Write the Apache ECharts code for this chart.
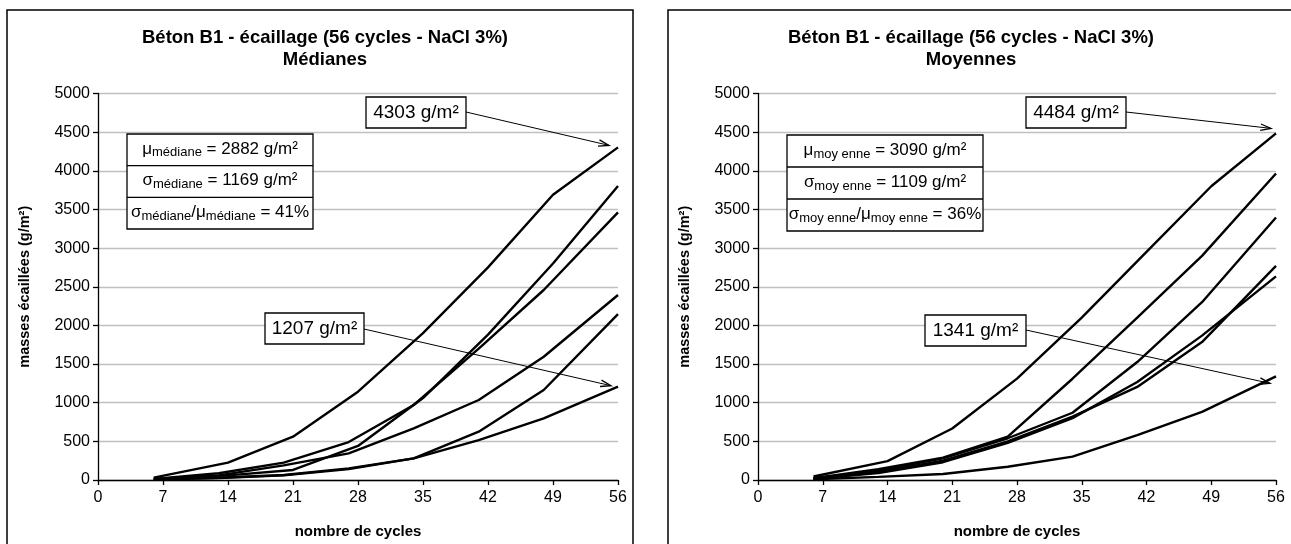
<!DOCTYPE html>
<html>
<head>
<meta charset="utf-8">
<title>Béton B1 - écaillage</title>
<script src="https://cdn.jsdelivr.net/npm/echarts@6/dist/echarts.min.js"></script>
<style>
  html, body { margin: 0; padding: 0; background: #fff; }
  #chart { width: 1291px; height: 544px; }
</style>
</head>
<body>
<div id="chart"></div>
<script>
// nombre de cycles : deux calendriers de mesure
const cyclesA = [6, 14, 21, 28, 35, 42, 49, 56];
const cyclesB = [6, 13, 20, 27, 34, 41, 48, 56];

// médianes (g/m²)
const med1 = [30, 224, 560, 1142, 1900, 2750, 3690, 4303];   // cyclesA
const med2 = [15, 60, 130, 440, 1060, 1880, 2800, 3803];     // cyclesA
const med3 = [15, 87, 224, 491, 970, 1700, 2458, 3463];      // cyclesB
const med4 = [10, 60, 190, 345, 668, 1035, 1595, 2393];      // cyclesB
const med5 = [5, 30, 65, 151, 280, 625, 1164, 2147];         // cyclesB
const med6 = [5, 25, 60, 140, 280, 517, 798, 1207];          // cyclesB

// moyennes (g/m²)
const moy1 = [45, 245, 666, 1311, 2100, 2950, 3800, 4484];   // cyclesA
const moy2 = [25, 140, 290, 560, 1310, 2100, 2900, 3965];    // cyclesB
const moy3 = [20, 120, 280, 540, 870, 1526, 2300, 3395];     // cyclesB
const moy4 = [20, 100, 250, 500, 820, 1204, 1784, 2770];     // cyclesB
const moy5 = [15, 90, 230, 480, 800, 1268, 1868, 2634];      // cyclesB
const moy6 = [10, 40, 77, 172, 302, 580, 881, 1341];         // cyclesB

// statistiques affichées
const statsMed = { mu: 2882, sigma: 1169, ratio: 41 };
const statsMoy = { mu: 3090, sigma: 1109, ratio: 36 };

const FONT = '"Liberation Sans", Arial, sans-serif';

function pairs(xs, ys) { return xs.map((x, i) => [x, ys[i]]); }

function serie(idx, xs, ys) {
  return {
    type: 'line', xAxisIndex: idx, yAxisIndex: idx,
    data: pairs(xs, ys), symbol: 'none', silent: true,
    lineStyle: { color: '#000', width: 2.4 }
  };
}

function xAxis(idx) {
  return {
    type: 'value', gridIndex: idx, min: 0, max: 56, interval: 7,
    name: 'nombre de cycles', nameLocation: 'middle', nameGap: 44,
    nameTextStyle: { fontFamily: FONT, fontSize: 15, fontWeight: 'bold', color: '#000' },
    axisLine: { lineStyle: { color: '#000', width: 1.3 } },
    axisTick: { length: 5, lineStyle: { color: '#000', width: 1.3 } },
    axisLabel: { fontFamily: FONT, fontSize: 16, color: '#000', margin: 10 },
    splitLine: { show: false }
  };
}

function yAxis(idx) {
  return {
    type: 'value', gridIndex: idx, min: 0, max: 5000, interval: 500,
    name: 'masses écaillées (g/m²)', nameLocation: 'middle', nameGap: 66, nameRotate: 90,
    nameTextStyle: { fontFamily: FONT, fontSize: 14.5, fontWeight: 'bold', color: '#000' },
    axisLine: { show: true, lineStyle: { color: '#000', width: 1.3 } },
    axisTick: { show: true, length: 5, lineStyle: { color: '#000', width: 1.3 } },
    axisLabel: { fontFamily: FONT, fontSize: 16, color: '#000', margin: 8, formatter: v => String(v) },
    splitLine: { lineStyle: { color: '#c0c0c0', width: 1.3 } }
  };
}

const titleStyle = { fontFamily: FONT, fontSize: 18.5, fontWeight: 'bold', color: '#000', lineHeight: 22 };

const chart = echarts.init(document.getElementById('chart'));
chart.setOption({
  animation: false,
  backgroundColor: '#fff',
  title: [
    { text: 'Béton B1 - écaillage (56 cycles - NaCl 3%)\nMédianes', left: 320, top: 22, textAlign: 'center', textStyle: titleStyle },
    { text: 'Béton B1 - écaillage (56 cycles - NaCl 3%)\nMoyennes', left: 966, top: 22, textAlign: 'center', textStyle: titleStyle }
  ],
  grid: [
    { left: 98, width: 520, top: 93.5, height: 386.5 },
    { left: 758, width: 518, top: 93.5, height: 387.5 }
  ],
  xAxis: [xAxis(0), xAxis(1)],
  yAxis: [yAxis(0), yAxis(1)],
  series: [
    serie(0, cyclesA, med1), serie(0, cyclesA, med2), serie(0, cyclesB, med3),
    serie(0, cyclesB, med4), serie(0, cyclesB, med5), serie(0, cyclesB, med6),
    serie(1, cyclesA, moy1), serie(1, cyclesB, moy2), serie(1, cyclesB, moy3),
    serie(1, cyclesB, moy4), serie(1, cyclesB, moy5), serie(1, cyclesB, moy6)
  ]
});

// ---- annotations ----
const rich = {
  g: { fontFamily: FONT, fontSize: 17, color: '#000' },
  s: { fontFamily: FONT, fontSize: 13, color: '#000', padding: [8, 0, 0, 0] },
  t: { fontFamily: FONT, fontSize: 17, color: '#000' }
};

function statsBox(x, y, w, h, sub, st) {
  const rh = h / 3;
  const rows = [
    '{g|μ}{s|' + sub + '}{t| = ' + st.mu + ' g/m²}',
    '{g|σ}{s|' + sub + '}{t| = ' + st.sigma + ' g/m²}',
    '{g|σ}{s|' + sub + '}{t|/}{g|μ}{s|' + sub + '}{t| = ' + st.ratio + '%}'
  ];
  const els = [{ type: 'rect', shape: { x: x, y: y, width: w, height: h },
    style: { fill: '#fff', stroke: '#000', lineWidth: 1.3 } }];
  for (let i = 1; i < 3; i++) {
    els.push({ type: 'line', shape: { x1: x, y1: y + rh * i, x2: x + w, y2: y + rh * i },
      style: { stroke: '#000', lineWidth: 1.3 } });
  }
  rows.forEach((r, i) => {
    els.push({ type: 'text', x: x + w / 2, y: y + rh * i + rh / 2 - 1,
      style: { text: r, rich: rich, align: 'center', verticalAlign: 'middle' } });
  });
  return els;
}

function labelBox(x, y, w, h, txt) {
  return [
    { type: 'rect', shape: { x: x, y: y, width: w, height: h },
      style: { fill: '#fff', stroke: '#000', lineWidth: 1.3 } },
    { type: 'text', x: x + w / 2, y: y + h / 2,
      style: { text: txt, fontFamily: FONT, fontSize: 19, fill: '#000', align: 'center', verticalAlign: 'middle' } }
  ];
}

function arrow(x1, y1, x2, y2) {
  const a = Math.atan2(y2 - y1, x2 - x1), L = 11, sp = 0.3;
  return [
    { type: 'line', shape: { x1: x1, y1: y1, x2: x2, y2: y2 }, style: { stroke: '#000', lineWidth: 1 } },
    { type: 'polyline', shape: { points: [
      [x2 - L * Math.cos(a - sp), y2 - L * Math.sin(a - sp)], [x2, y2],
      [x2 - L * Math.cos(a + sp), y2 - L * Math.sin(a + sp)]] },
      style: { stroke: '#000', lineWidth: 1.3, fill: null } }
  ];
}

function px(gi, x, y) { return chart.convertToPixel({ gridIndex: gi }, [x, y]); }

const pMedHi = px(0, 56, med1[7]), pMedLo = px(0, 56, med6[7]);
const pMoyHi = px(1, 56, moy1[7]), pMoyLo = px(1, 56, moy6[7]);

const graphics = [
  // cadres des deux graphiques
  { type: 'rect', shape: { x: 7, y: 10, width: 626, height: 560 }, style: { fill: null, stroke: '#000', lineWidth: 1.5 } },
  { type: 'rect', shape: { x: 668, y: 10, width: 640, height: 560 }, style: { fill: null, stroke: '#000', lineWidth: 1.5 } }
].concat(
  statsBox(127, 134, 186, 95, 'médiane', statsMed),
  statsBox(787, 135, 196, 96, 'moy enne', statsMoy),
  arrow(466, 112, pMedHi[0] - 9, pMedHi[1] - 2),
  arrow(364, 329, pMedLo[0] - 7, pMedLo[1] - 1),
  arrow(1126, 112, pMoyHi[0] - 5, pMoyHi[1] - 5),
  arrow(1026, 330, pMoyLo[0] - 6, pMoyLo[1] + 7),
  labelBox(366, 97, 100, 31, med1[7] + ' g/m²'),
  labelBox(265, 313, 99, 31, med6[7] + ' g/m²'),
  labelBox(1026, 97, 100, 31, moy1[7] + ' g/m²'),
  labelBox(925, 315, 101, 31, moy6[7] + ' g/m²')
);

chart.setOption({ graphic: graphics });
</script>
</body>
</html>
